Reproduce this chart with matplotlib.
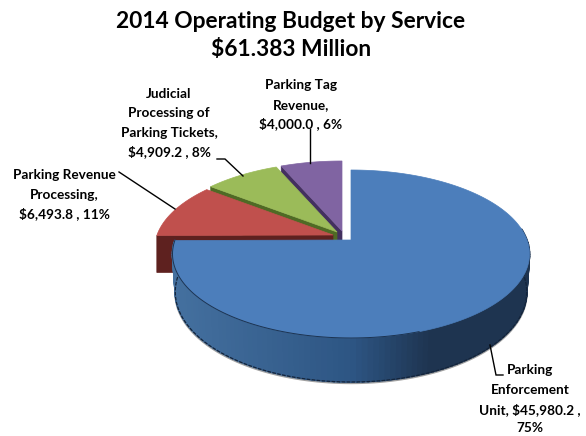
import numpy as np
import matplotlib
matplotlib.use("Agg")
import matplotlib.pyplot as plt
from matplotlib.patches import Polygon
from matplotlib.colors import to_rgb

TITLE = ["2014 Operating Budget by Service", "$61.383 Million"]
services = ["Parking Enforcement Unit", "Parking Revenue Processing",
            "Judicial Processing of Parking Tickets", "Parking Tag Revenue"]
budget = [45980.2, 6493.8, 4909.2, 4000.0]
percent = [75, 11, 8, 6]

top_colors = ["#4c7ebb", "#c0504d", "#9bbb59", "#8064a2"]
wall_colors = ["#2a4a72", "#5e211f", "#4f6a25", "#43305f"]
# slice anchors on the canvas after the explosion
anchors = [(351, 240), (333, 235), (337, 232), (342, 231)]

RX, RY, K = 176.0, 81.67, 1 / 6
DEPTH = 37.0

fig = plt.figure(figsize=(5.86, 4.36), dpi=100)
ax = fig.add_axes([0, 0, 1, 1])
ax.set_xlim(0, 586)
ax.set_ylim(436, 0)
ax.axis("off")


def project(theta_deg, r=1.0):
    """Perspective projection of a point on the unit disc, relative to its anchor."""
    t = np.radians(theta_deg)
    u, v = r * np.cos(t), r * np.sin(t)
    w = 1 + K * v
    return RX * u / w, -RY * v / w


def wall_drop(theta_deg):
    return DEPTH + 7 * np.maximum(0, -np.sin(np.radians(theta_deg)))


def mix(a, b, f):
    a, b = np.array(to_rgb(a)), np.array(to_rgb(b))
    return tuple(a + (b - a) * f)


total = sum(budget)
ends = 90 - np.cumsum(np.array(budget) / total * 360)
starts = np.r_[90, ends[:-1]]

# back slices first, the large slice last
for i in [3, 2, 1, 0]:
    cx, cy = anchors[i]
    a0, a1 = starts[i], ends[i]
    th = np.linspace(a0, a1, 240)
    px, py = project(th)
    if i > 0:
        # radial wall below the lower edge of the slice
        ex, ey = project(a0)
        quad = [(cx, cy), (cx + ex, cy + ey),
                (cx + ex, cy + ey + DEPTH), (cx, cy + DEPTH)]
        ax.add_patch(Polygon(quad, fc=wall_colors[i], ec=wall_colors[i], lw=0.5,
                             zorder=i * -10 + 40))
    else:
        # outer rim of the large slice, shaded from left to right
        rim = np.linspace(180, 368, 120)
        rx_, ry_ = project(rim)
        drop = wall_drop(rim)
        sq = 1 - 0.015 * drop / DEPTH
        # pale fringe under the rim
        ax.plot(cx + rx_ * sq, cy + ry_ + drop + 1.2, color="#a0a0a0", lw=1.4, zorder=49)
        for j in range(len(rim) - 1):
            f = (rx_[j] + RX) / (2 * RX)
            if f < 0.5:
                col = mix("#44709f", "#2d5583", f / 0.5)
            else:
                col = mix("#2d5583", "#1e3450", min(1, (f - 0.5) / 0.22))
            q = [(cx + rx_[j], cy + ry_[j]), (cx + rx_[j + 1], cy + ry_[j + 1]),
                 (cx + rx_[j + 1] * sq[j + 1], cy + ry_[j + 1] + drop[j + 1]),
                 (cx + rx_[j] * sq[j], cy + ry_[j] + drop[j])]
            ax.add_patch(Polygon(q, fc=col, ec=col, lw=1.2, zorder=50))
        ax.plot(cx + rx_ * sq, cy + ry_ + drop, color="#14243a", lw=0.9,
                ls=(0, (3, 1)), zorder=51)
    pts = [(cx, cy)] + list(zip(cx + px, cy + py))
    ax.add_patch(Polygon(pts, closed=True, fc=top_colors[i], ec=top_colors[i], lw=0.5,
                         zorder=i * -10 + 41 if i > 0 else 52))
    if i == 0:
        ax.plot(cx + rx_[:70], cy + ry_[:70], color="#1c3350", lw=0.7, zorder=53)

# leader lines
leaders = [
    ([310, 310], [163, 129]),
    ([243, 225, 217], [176, 159, 159]),
    ([175, 119], [209, 172]),
    ([490, 496, 503], [345, 375, 375]),
]
for xs, ys in leaders:
    ax.plot(xs, ys, color="black", lw=1.0, zorder=60, solid_joinstyle="miter")

FONT = "Lato"
for line, y in zip(TITLE, [21, 50]):
    ax.text(291, y, line, ha="center", va="center", family=FONT, weight="bold",
            fontsize=16.4, color="black")

money = [f"${v:,.1f}" for v in budget]
labels = [
    (530, [370, 390, 410, 428],
     ["Parking", "Enforcement", f"Unit, {money[0]} ,", f"{percent[0]}%"]),
    (64, [175, 195, 214],
     ["Parking Revenue", "Processing,", f"{money[1]} , {percent[1]}%"]),
    (169, [94, 113, 133, 152],
     ["Judicial", "Processing of", "Parking Tickets,", f"{money[2]} , {percent[2]}%"]),
    (301, [85, 105, 124],
     ["Parking Tag", "Revenue,", f"{money[3]} , {percent[3]}%"]),
]
for x, ys, lines in labels:
    for y, line in zip(ys, lines):
        ax.text(x, y, line, ha="center", va="center", family=FONT, weight="bold",
                fontsize=9.8, color="black", zorder=70)

fig.savefig("out.png", dpi=100, facecolor="white")
